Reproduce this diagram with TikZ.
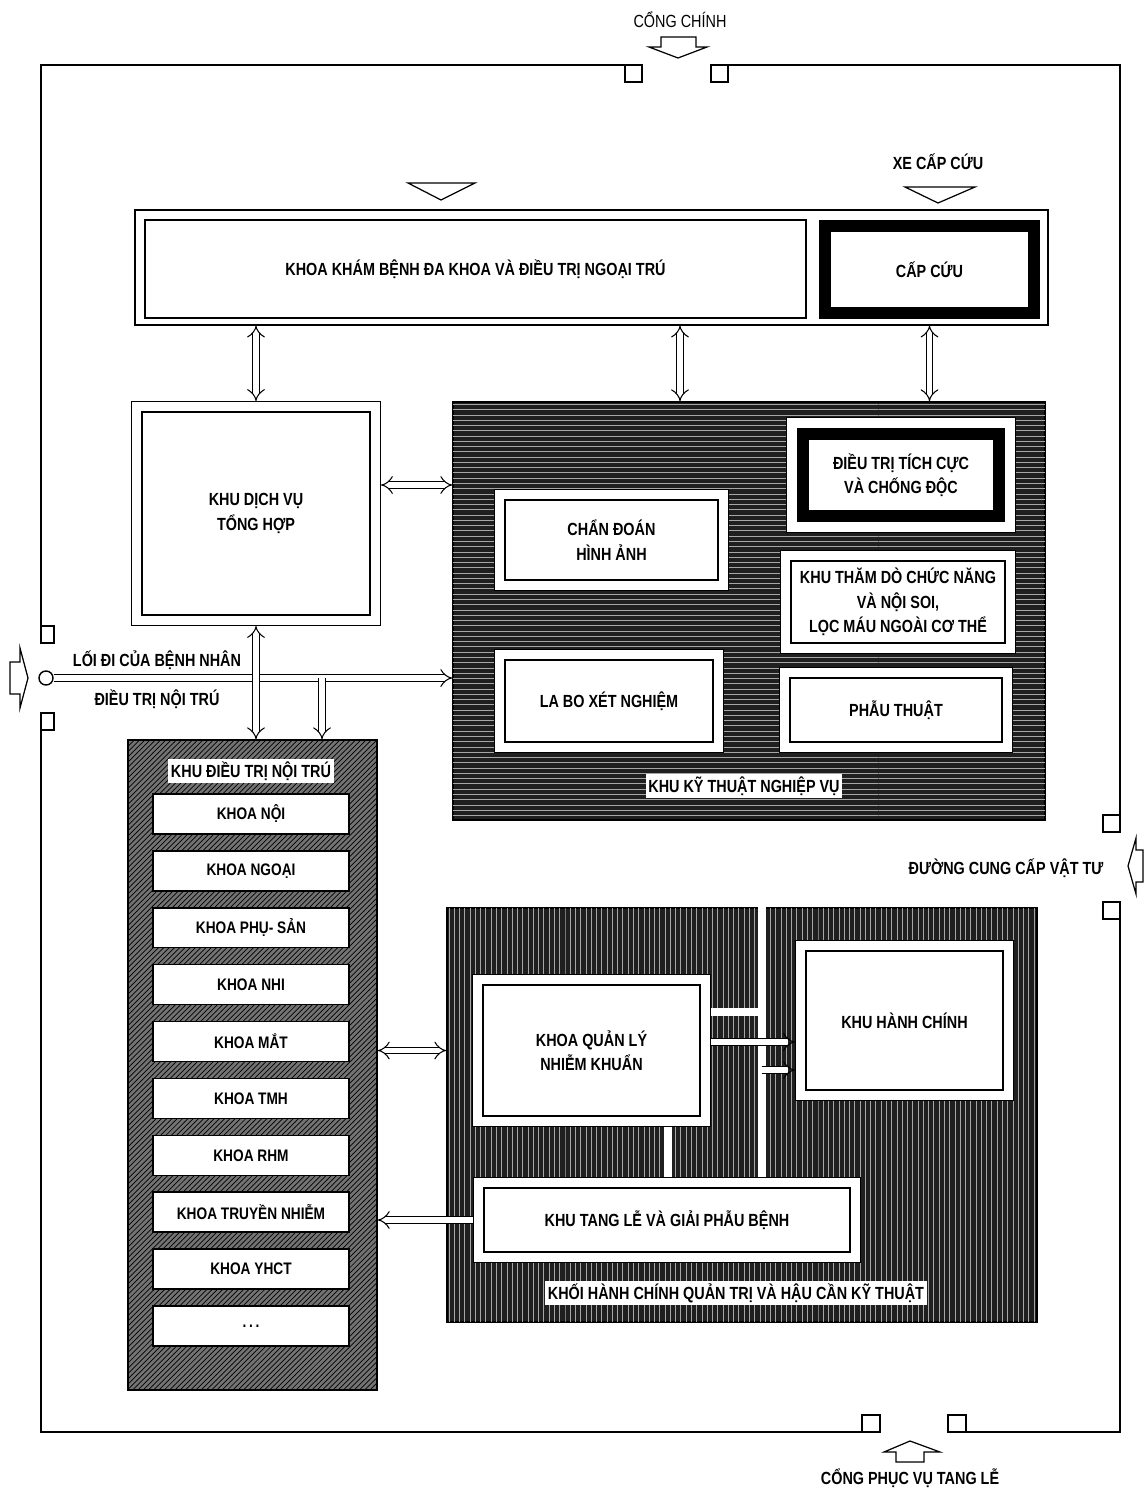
\documentclass[tikz,border=0pt]{standalone}
\usepackage{fontspec}
\setmainfont{Liberation Sans}[FakeStretch=0.82]
\usetikzlibrary{arrows.meta, positioning, patterns}

\begin{document}
\begin{tikzpicture}[
    x=0.02cm, y=-0.02cm,
    wall/.style={line width=0.9pt},
    gatearr/.style={draw, line width=0.7pt, fill=white},
    sign/.style={font=\fontsize{10}{12}\selectfont\bfseries},
    frame/.style={draw, line width=0.7pt, fill=white},
    room/.style={draw, line width=1.5pt, fill=white, align=center,
                 font=\fontsize{10}{14}\selectfont\bfseries},
    unit/.style={room, outer sep=6.3pt,
                 preaction={draw, line width=12.6pt},
                 preaction={draw=white, line width=11.2pt}},
    heavy/.style={room, line width=6.8pt, outer sep=3.4pt},
    heavyunit/.style={heavy, outer sep=9.7pt,
                 preaction={draw, line width=19.4pt},
                 preaction={draw=white, line width=18.2pt}},
    ktnvzone/.style={draw, line width=1pt, fill=black!88,
                 postaction={pattern=horizontal lines, pattern color=black!35}},
    khoizone/.style={draw, line width=1pt, fill=black!88,
                 postaction={pattern=vertical lines, pattern color=black!35}},
    noitruzone/.style={draw, line width=1pt, fill=black!55,
                 postaction={pattern=north east lines, pattern color=black}},
    tag/.style={fill=white, inner sep=1.5pt, font=\fontsize{10}{12}\selectfont\bfseries},
    ward/.style={draw, line width=0.9pt, fill=white, minimum width=3.92cm,
                 minimum height=0.8cm, font=\fontsize{9.5}{11}\selectfont\bfseries},
    dblarr/.style={draw=black, double=white, double distance=3pt, line width=0.6pt,
                 {Implies}-{Implies}},
    onearr/.style={draw=black, double=white, double distance=3pt, line width=0.6pt,
                 -{Implies}},
    link/.style={draw=black, double=white, double distance=4pt, line width=0.5pt},
]
    \useasboundingbox (0,0) rectangle (1144,1491);

    % Walls and gates
    \draw[wall] (41,626) -- (41,65) -- (625,65);
    \draw[wall] (625,65) rectangle (642,82);
    \draw[wall] (711,65) rectangle (728,82);
    \draw[wall] (728,65) -- (1120,65) -- (1120,815);
    \draw[wall] (1103,815) rectangle (1120,832);
    \draw[wall] (1103,902) rectangle (1120,919);
    \draw[wall] (1120,919) -- (1120,1432) -- (966,1432);
    \draw[wall] (948,1415) rectangle (966,1432);
    \draw[wall] (862,1415) rectangle (880,1432);
    \draw[wall] (862,1432) -- (41,1432) -- (41,730);
    \draw[wall] (41,626) rectangle (54,643);
    \draw[wall] (41,713) rectangle (54,730);

    % Gate arrows
    \draw[gatearr] (661,37) -- (696,37) -- (696,47) -- (707,47) -- (678,58) -- (649,47) -- (661,47) -- cycle;
    \draw[gatearr] (896,1462) -- (924,1462) -- (924,1452) -- (940,1452) -- (910,1441) -- (884,1452) -- (896,1452) -- cycle;
    \draw[gatearr] (10,662) -- (20,662) -- (20,648) -- (28,678) -- (20,708) -- (20,694) -- (10,694) -- cycle;
    \draw[gatearr] (1143,850) -- (1136,850) -- (1136,838) -- (1128,866) -- (1136,894) -- (1136,882) -- (1143,882) -- cycle;
    \draw[gatearr] (408,183) -- (475,183) -- (441,200) -- cycle;
    \draw[gatearr] (905,187) -- (975,187) -- (938,203) -- cycle;

    % Gate labels
    \node[font=\fontsize{10}{12}\selectfont] (congchinh) at (680,20) {CỔNG CHÍNH};
    \node[sign] (xecapcuu) at (938,162) {XE CẤP CỨU};
    \node[sign] (cungcap) at (1006,868) {ĐƯỜNG CUNG CẤP VẬT TƯ};
    \node[sign] (congtangle) at (910,1478) {CỔNG PHỤC VỤ TANG LỄ};
    \node[sign] (loidi1) at (157,660) {LỐI ĐI CỦA BỆNH NHÂN};
    \node[sign] (loidi2) at (157,699) {ĐIỀU TRỊ NỘI TRÚ};

    % Outpatient and emergency
    \node[frame, minimum width=18.26cm, minimum height=2.3cm] (tiepdon) at (591.5,267.5) {};
    \node[room, minimum width=13.22cm, minimum height=1.96cm] (khambenh) at (475.5,269)
        {KHOA KHÁM BỆNH ĐA KHOA VÀ ĐIỀU TRỊ NGOẠI TRÚ};
    \node[heavy, minimum width=4.18cm, minimum height=1.74cm] (capcuu) at (929.5,269.5) {CẤP CỨU};

    % General services
    \node[unit, minimum width=4.56cm, minimum height=4.06cm] (dichvu) at (256,513.5)
        {KHU DỊCH VỤ\\TỔNG HỢP};

    % Technical block
    \node[ktnvzone, minimum width=11.84cm, minimum height=8.36cm] (ktnv) at (749,611) {};
    \node[heavyunit, minimum width=3.91cm, minimum height=1.65cm] (dttc) at (901,475)
        {ĐIỀU TRỊ TÍCH CỰC\\VÀ CHỐNG ĐỘC};
    \node[unit, minimum width=4.26cm, minimum height=1.6cm] (chandoan) at (611.5,540)
        {CHẨN ĐOÁN\\HÌNH ẢNH};
    \node[unit, minimum width=4.28cm, minimum height=1.64cm] (thamdo) at (898,602)
        {KHU THĂM DÒ CHỨC NĂNG\\VÀ NỘI SOI,\\LỌC MÁU NGOÀI CƠ THỂ};
    \node[unit, minimum width=4.16cm, minimum height=1.64cm] (labo) at (609,701)
        {LA BO XÉT NGHIỆM};
    \node[unit, minimum width=4.24cm, minimum height=1.28cm] (phauthuat) at (896,710)
        {PHẪU THUẬT};
    \node[tag] (ktnvtag) at (744,786) {KHU KỸ THUẬT NGHIỆP VỤ};

    % Inpatient block
    \node[noitruzone, minimum width=4.98cm, minimum height=13cm] (noitru) at (252.5,1065) {};
    \node[tag] (noitrutag) at (251,771) {KHU ĐIỀU TRỊ NỘI TRÚ};
    \foreach \txt [count=\i] in {KHOA NỘI, KHOA NGOẠI, KHOA PHỤ- SẢN, KHOA NHI, KHOA MẮT,
                                 KHOA TMH, KHOA RHM, KHOA TRUYỀN NHIỄM, KHOA YHCT, .\,.\,.} {
        \node[ward] (khoa\i) at (251,757+56.9*\i) {\txt};
    }

    % Administration and logistics block
    \node[khoizone, minimum width=11.8cm, minimum height=8.28cm] (khoi) at (742,1115) {};
    \node[unit, minimum width=4.34cm, minimum height=2.62cm] (qlnk) at (591.5,1050.5)
        {KHOA QUẢN LÝ\\NHIỄM KHUẨN};
    \node[unit, minimum width=3.94cm, minimum height=2.78cm] (hanhchinh) at (904.5,1020.5)
        {KHU HÀNH CHÍNH};
    \node[unit, minimum width=7.32cm, minimum height=1.28cm] (tangle) at (667,1220)
        {KHU TANG LỄ VÀ GIẢI PHẪU BỆNH};
    \node[tag] (khoitag) at (736,1293) {KHỐI HÀNH CHÍNH QUẢN TRỊ VÀ HẬU CẦN KỸ THUẬT};

    % Patient entry
    \node[draw, circle, line width=0.8pt, fill=white, minimum size=0.28cm, inner sep=0pt]
        (loidi) at (46,678) {};

    % Arrows: outpatient -> blocks below
    \draw[dblarr] (dichvu |- tiepdon.south) -- (dichvu.north);
    \draw[dblarr] (680,0 |- tiepdon.south) -- (680,0 |- ktnv.north);
    \draw[dblarr] (capcuu |- tiepdon.south) -- (capcuu |- ktnv.north);
    \draw[dblarr] (dichvu.east |- 0,485) -- (ktnv.west |- 0,485);

    % Arrows: patient corridor
    \draw[onearr] (loidi.east) -- (loidi -| ktnv.west);
    \draw[dblarr] (dichvu.south) -- (dichvu |- noitru.north);
    \draw[onearr] (322,0 |- loidi) -- (322,0 |- noitru.north);

    % Arrows: inpatient <-> logistics
    \draw[dblarr] (noitru.east |- qlnk) -- (khoi.west |- qlnk);
    \draw[onearr] (tangle.west) -- (noitru.east |- tangle.west);

    % Links inside logistics block
    \draw[link] (762,0 |- ktnv.south) -- (762,0 |- tangle.north);
    \draw[link] (qlnk.east |- 0,1012) -- (762,1012);
    \draw[onearr] (qlnk.east |- 0,1042) -- (hanhchinh.west |- 0,1042);
    \draw[onearr] (762,1070) -- (hanhchinh.west |- 0,1070);
    \draw[link] (668,0 |- qlnk.south) -- (668,0 |- tangle.north);
\end{tikzpicture}
\end{document}
